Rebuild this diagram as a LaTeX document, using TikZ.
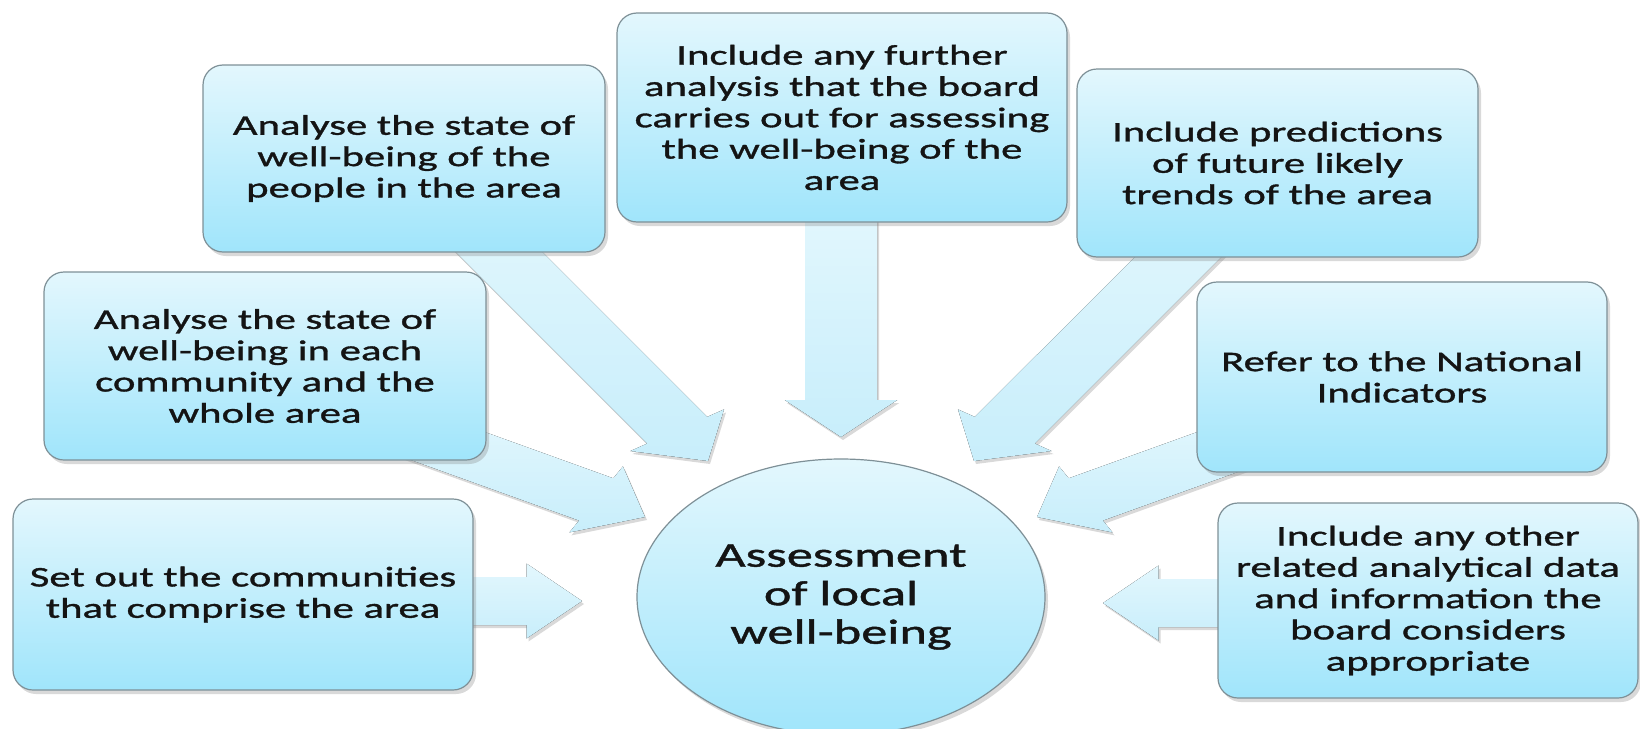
\documentclass[tikz,border=0pt]{standalone}
\usepackage{fontspec}
\setmainfont{Carlito}
\newfontfamily\stretchfont{Carlito}[FakeStretch=1.5,FakeBold=1.2]
\usetikzlibrary{shapes.geometric,shadows}
\definecolor{boxtop}{HTML}{E3F7FD}
\definecolor{boxbot}{HTML}{A0E5FB}
\definecolor{boxedge}{HTML}{7E9097}
\definecolor{arrowA}{HTML}{E3F7FD}
\definecolor{arrowB}{HTML}{C8EEFB}
\definecolor{txt}{HTML}{141414}
\tikzset{
  box/.style={draw=boxedge, line width=1.2pt, rounded corners=20pt,
    top color=boxtop, bottom color=boxbot, align=center, inner sep=0pt,
    font=\stretchfont\fontsize{28.5}{31.3}\selectfont, text=txt,
    drop shadow={shadow xshift=3pt, shadow yshift=-4pt, opacity=0.3}},
  hub/.style={ellipse, draw=boxedge, line width=1.2pt,
    top color=boxtop, bottom color=boxbot, align=center, inner sep=0pt,
    minimum width=408pt, minimum height=276pt,
    font=\stretchfont\fontsize{35}{38.5}\selectfont, text=txt,
    drop shadow={shadow xshift=3pt, shadow yshift=-4pt, opacity=0.3}},
  blockarrow/.style={top color=arrowA, bottom color=arrowB, draw=none,
    drop shadow={shadow xshift=2pt, shadow yshift=-3pt, opacity=0.3}}
}
\newcommand\barpt[2]{({\barAxn+1.5*((#1)*\barUx-(#2)*\barUy)},{\barAyn+(#1)*\barUy+(#2)*\barUx})}
\newcommand\barrow[2]{%
  \pgfpointanchor{#1}{center}\pgfgetlastxy{\barAx}{\barAy}%
  \pgfpointanchor{#2}{center}\pgfgetlastxy{\barBx}{\barBy}%
  \pgfmathsetmacro\barDx{(\barBx-\barAx)/1.5}%
  \pgfmathsetmacro\barDy{\barBy-\barAy}%
  \pgfmathsetmacro\barLen{veclen(\barDx,\barDy)}%
  \pgfmathsetmacro\barUx{\barDx/\barLen}%
  \pgfmathsetmacro\barUy{\barDy/\barLen}%
  \pgfmathsetmacro\barAxn{\barAx}%
  \pgfmathsetmacro\barAyn{\barAy}%
  \fill[blockarrow] \barpt{0}{24} -- \barpt{\barLen-37}{24} -- \barpt{\barLen-37}{37.5}
    -- \barpt{\barLen}{0} -- \barpt{\barLen-37}{-37.5} -- \barpt{\barLen-37}{-24}
    -- \barpt{0}{-24} -- cycle;
}
\begin{document}
\begin{tikzpicture}[x=1pt,y=1pt]
\useasboundingbox (0,0) rectangle (1640,-728);
% arrow ends
\coordinate (s1) at (420,-601);  \coordinate (t1) at (582,-601);
\coordinate (s2) at (409,-432);  \coordinate (t2) at (645,-517);
\coordinate (s3) at (447,-200);  \coordinate (t3) at (708,-461);
\coordinate (s4) at (841,-200);  \coordinate (t4) at (841,-437);
\coordinate (s5) at (1235,-200); \coordinate (t5) at (974,-461);
\coordinate (s6) at (1273,-432); \coordinate (t6) at (1037,-517);
\coordinate (s7) at (1262,-603); \coordinate (t7) at (1103,-603);
\barrow{s1}{t1}
\barrow{s2}{t2}
\barrow{s3}{t3}
\barrow{s4}{t4}
\barrow{s5}{t5}
\barrow{s6}{t6}
\barrow{s7}{t7}
% boxes
\node[box, minimum width=460pt, minimum height=191pt] (b1) at (243,-594.5)
  {Set out the communities\\that comprise the area};
\node[box, minimum width=442pt, minimum height=188pt] (b2) at (265,-366)
  {Analyse the state of\\well-being in each\\community and the\\whole area};
\node[box, minimum width=402pt, minimum height=187pt] (b3) at (404,-158.5)
  {Analyse the state of\\well-being of the\\people in the area};
\node[box, minimum width=450pt, minimum height=209pt] (b4) at (842,-117.5)
  {Include any further\\analysis that the board\\carries out for assessing\\the well-being of the\\area};
\node[box, minimum width=401pt, minimum height=188pt] (b5) at (1277.5,-163)
  {Include predictions\\of future likely\\trends of the area};
\node[box, minimum width=410pt, minimum height=190pt] (b6) at (1402,-377)
  {Refer to the National\\Indicators};
\node[box, minimum width=420pt, minimum height=195pt] (b7) at (1428,-600.5)
  {Include any other\\related analytical data\\and information the\\board considers\\appropriate};
\node[hub] (hub) at (841,-597) {Assessment\\of local\\well-being};
\end{tikzpicture}
\end{document}
